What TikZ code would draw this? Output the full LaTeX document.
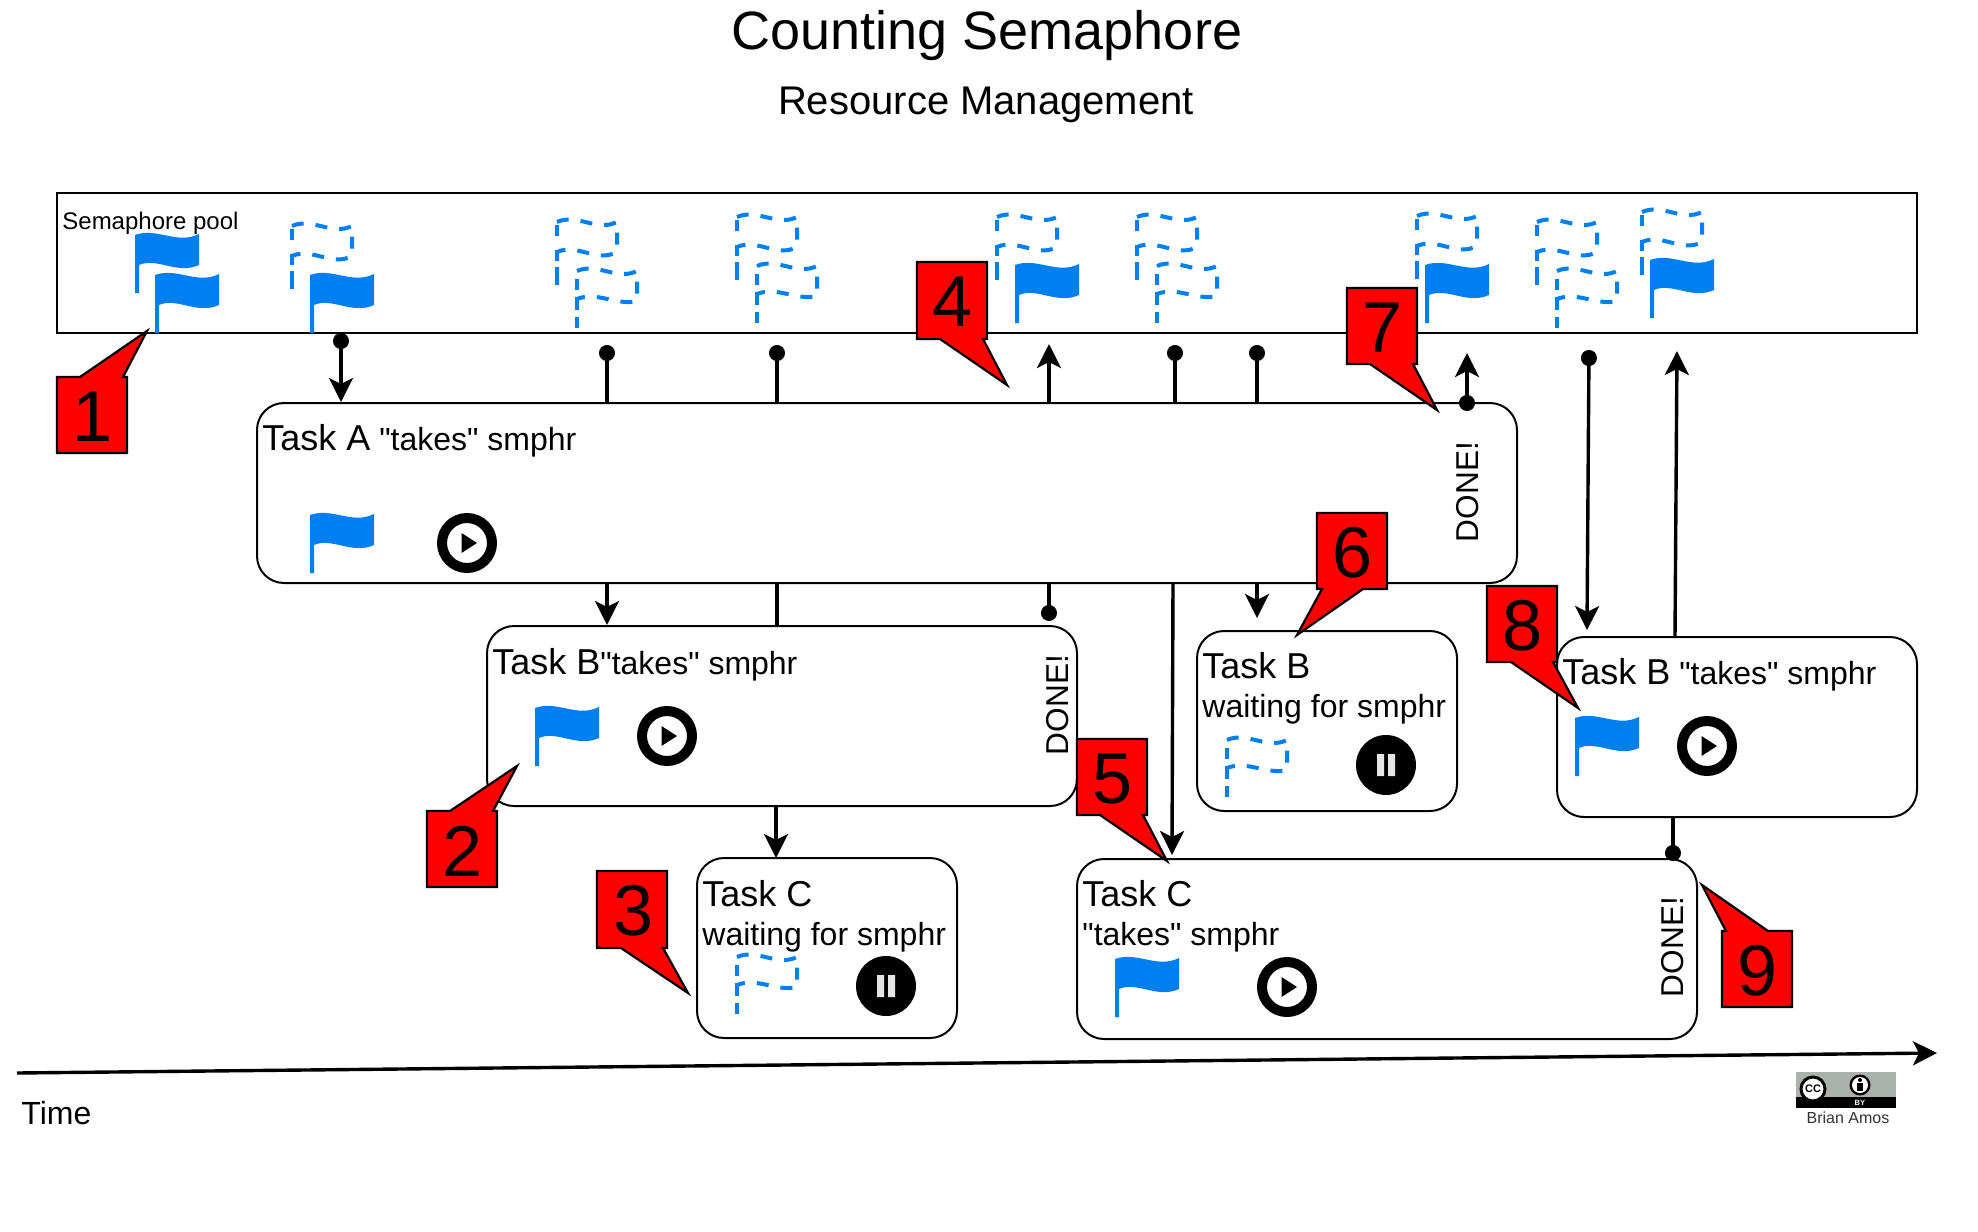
\documentclass[tikz,border=0pt]{standalone}
\usepackage{fontspec}
\setmainfont{Liberation Sans}[Ligatures=TeXOff]
\usepackage{tikz}
\usetikzlibrary{arrows.meta,calc}
\definecolor{flagblue}{HTML}{0080F0}
\definecolor{ccgrey}{HTML}{AAB2AB}
\newcommand{\tasktitle}[1]{{\fontsize{18pt}{20pt}\selectfont #1}}
\tikzset{
  taskbox/.style={draw, line width=1pt, fill=white, rounded corners=13.5pt, minimum height=90pt, inner sep=0pt},
  tasktext/.style={anchor=base west, inner sep=0pt, font=\fontsize{16pt}{20pt}\selectfont},
  donetext/.style={rotate=90, inner sep=0pt, font=\fontsize{15.8pt}{18pt}\selectfont},
  numtext/.style={inner sep=0pt, font=\fontsize{36pt}{40pt}\selectfont},
  numbox/.style={draw, line width=1.1pt, fill=red, line join=miter},
  link/.style={line width=1.7pt},
  linkto/.style={link, -{Stealth[length=12pt,width=12pt,inset=3pt]}},
  dotlink/.style={link, {Circle[length=8pt,width=8pt]}-},
  dotto/.style={link, {Circle[length=8pt,width=8pt]}-{Stealth[length=12pt,width=12pt,inset=3pt]}},
  solidflag/.pic={
    \fill[flagblue] (0,0) -- (0,-58) .. controls (22,-66) and (42,-48) .. (64,-59)
      -- (64,-28) .. controls (42,-18) and (22,-36) .. (4,-28) -- (4,0) -- cycle;
  },
  % top flag of a pair, a little taller
  tallflag/.pic={
    \draw[flagblue, line width=2pt, dash pattern=on 6pt off 6pt] (0,-63) .. controls (20,-72) and (40,-53) .. (60,-63)
      -- (60,-33) .. controls (40,-22) and (20,-42) .. (0,-33);
    \draw[flagblue, line width=2pt, dash pattern=on 9pt off 3pt on 5.5pt off 7pt on 6pt] (0,0) -- (0,-60);
  },
  lowflag/.pic={
    \draw[flagblue, line width=2pt, dash pattern=on 6pt off 6pt] (0,-57) .. controls (20,-66) and (40,-47) .. (60,-57)
      -- (60,-27) .. controls (40,-22) and (20,-37) .. (0,-29);
    \draw[flagblue, line width=2pt, dash pattern=on 5.5pt off 3.5pt on 6.5pt off 3.5pt on 5.5pt] (0,0) -- (0,-57);
  },
  playicon/.pic={
    \draw[line width=5pt] (0,0) circle (25);
    \fill (-5.5,-10) -- (10,0) -- (-5.5,10) -- cycle;
  },
  pauseicon/.pic={
    \fill (0,0) circle (30);
    \fill[white!90!black] (-9,-11) rectangle (-2,11) (2,-11) rectangle (9,11);
  },
}
\begin{document}
\begin{tikzpicture}[x=0.5pt, y=-0.5pt]
  \useasboundingbox (0,0) rectangle (1978,1232);

  \node[inner sep=0pt, anchor=base, font=\fontsize{27pt}{30pt}\selectfont] (title) at (987,49) {Counting Semaphore};
  \node[inner sep=0pt, anchor=base, font=\fontsize{20pt}{24pt}\selectfont] (subtitle) at (986,114) {Resource Management};

  % semaphore pool
  \node[draw, line width=1pt, minimum width=930pt, minimum height=70pt, inner sep=0pt] (pool) at (987,263) {};
  \node[inner sep=0pt, anchor=base west, font=\fontsize{12pt}{14pt}\selectfont] (poollabel) at (62,229) {Semaphore pool};

  \pic at (135,293) {solidflag};
  \pic at (155,333) {solidflag};
  \pic at (292,289) {tallflag};
  \pic at (310,333) {solidflag};
  \pic at (557,285) {tallflag};
  \pic at (577,328) {lowflag};
  \pic at (737,280) {tallflag};
  \pic at (757,323) {lowflag};
  \pic at (997,280) {tallflag};
  \pic at (1015,323) {solidflag};
  \pic at (1137,280) {tallflag};
  \pic at (1157,323) {lowflag};
  \pic at (1417,279) {tallflag};
  \pic at (1425,323) {solidflag};
  \pic at (1537,285) {tallflag};
  \pic at (1557,328) {lowflag};
  \pic at (1642,275) {tallflag};
  \pic at (1650,318) {solidflag};

  % tasks
  \node[taskbox, minimum width=630pt] (taska) at (887,493) {};
  \node[taskbox, minimum width=295pt] (taskb) at (782,716) {};
  \node[taskbox, minimum width=130pt] (taskc) at (827,948) {};
  \node[taskbox, minimum width=130pt] (waitb) at (1327,721) {};
  \node[taskbox, minimum width=310pt] (takec) at (1387,949) {};
  \node[taskbox, minimum width=180pt] (takeb) at (1737,727) {};

  \node[tasktext] (taskatext) at (262,450) {\tasktitle{Task A} "takes" smphr};
  \node[tasktext] (taskbtext) at (492,674) {\tasktitle{Task B}"takes" smphr};
  \node[tasktext] (taskctext) at (702,906) {\tasktitle{Task C}};
  \node[tasktext] (taskcwait) at (702,945) {waiting for smphr};
  \node[tasktext] (waitbtext) at (1202,678) {\tasktitle{Task B}};
  \node[tasktext] (waitbwait) at (1202,717) {waiting for smphr};
  \node[tasktext] (takectext) at (1082,906) {\tasktitle{Task C}};
  \node[tasktext] (takecwait) at (1082,945) {"takes" smphr};
  \node[tasktext] (takebtext) at (1562,684) {\tasktitle{Task B} "takes" smphr};

  \node[donetext] (donea) at (1468,492) {DONE!};
  \node[donetext] (doneb) at (1058,705) {DONE!};
  \node[donetext] (donec) at (1673,947) {DONE!};

  \pic at (310,573) {solidflag};
  \pic at (467,543) {playicon};
  \pic at (535,766) {solidflag};
  \pic at (667,736) {playicon};
  \pic at (737,1014) {lowflag};
  \pic at (886,986) {pauseicon};
  \pic at (1227,797) {lowflag};
  \pic at (1386,765) {pauseicon};
  \pic at (1115,1017) {solidflag};
  \pic at (1287,987) {playicon};
  \pic at (1575,776) {solidflag};
  \pic at (1707,746) {playicon};

  % free ends of the connectors
  \coordinate (p1) at (341,333);
  \coordinate (p2) at (607,345);
  \coordinate (p3) at (777,345);
  \coordinate (p4) at (1049,344);
  \coordinate (p5) at (1175,345);
  \coordinate (p6) at (1257,345);
  \coordinate (p7) at (1467,411);
  \coordinate (p8) at (1467,353);
  \coordinate (p9) at (1589,350);
  \coordinate (p10) at (1587,630);
  \coordinate (p11) at (1675,637);
  \coordinate (p12) at (1677,351);
  \coordinate (p13) at (1049,621);
  \coordinate (p14) at (1173,583);
  \coordinate (p15) at (1172,855);
  \coordinate (p16) at (1257,618);
  \coordinate (p17) at (1673,861);
  \coordinate (p18) at (776,806);
  \coordinate (p19) at (776,858);

  \draw[dotto] (p1) -- (p1 |- taska.north);
  \draw[dotlink] (p2) -- (p2 |- taska.north);
  \draw[dotlink] (p3) -- (p3 |- taska.north);
  \draw[linkto] (p4 |- taska.north) -- (p4);
  \draw[dotlink] (p5) -- (p5 |- taska.north);
  \draw[dotlink] (p6) -- (p6 |- taska.north);
  \draw[dotto] (p7) -- (p8);
  \draw[dotto] (p9) -- (p10);
  \draw[linkto] (p11) -- (p12);

  \draw[linkto] (p2 |- taska.south) -- (p2 |- taskb.north);
  \draw[link] (p3 |- taska.south) -- (p3 |- taskb.north);
  \draw[dotlink] (p13) -- (p13 |- taska.south);
  \draw[linkto] (p14) -- (p15);
  \draw[linkto] (p6 |- taska.south) -- (p16);
  \draw[linkto] (p18) -- (p19);
  \draw[dotlink] (p17) -- (p17 |- takeb.south);

  % time axis
  \coordinate (t0) at (17,1073);
  \coordinate (t1) at (1937,1053);
  \draw[line width=1.7pt, -{Stealth[length=12pt,width=12pt,inset=3pt]}] (t0) -- (t1);
  \node[tasktext] (timelabel) at (21,1124) {Time};

  % numbered notes
  \draw[numbox] (57,377) -- (80,377) -- (147,331) -- (123,377) -- (127,377) -- (127,453) -- (57,453) -- cycle;
  \node[numtext] (n1) at (93,417) {1};
  \draw[numbox] (427,811) -- (450,811) -- (517,766) -- (493,811) -- (497,811) -- (497,887) -- (427,887) -- cycle;
  \node[numtext] (n2) at (463,851) {2};
  \draw[numbox] (597,871) -- (667,871) -- (667,948) -- (663,948) -- (688,993) -- (621,948) -- (597,948) -- cycle;
  \node[numtext] (n3) at (634,911) {3};
  \draw[numbox] (917,262) -- (987,262) -- (987,339) -- (983,339) -- (1007,385) -- (940,339) -- (917,339) -- cycle;
  \node[numtext] (n4) at (953,302) {4};
  \draw[numbox] (1077,739) -- (1147,739) -- (1147,815) -- (1143,815) -- (1167,861) -- (1100,815) -- (1077,815) -- cycle;
  \node[numtext] (n5) at (1113,779) {5};
  \draw[numbox] (1317,513) -- (1387,513) -- (1387,589) -- (1363,589) -- (1297,635) -- (1322,589) -- (1317,589) -- cycle;
  \node[numtext] (n6) at (1353,553) {6};
  \draw[numbox] (1347,288) -- (1417,288) -- (1417,364) -- (1413,364) -- (1437,410) -- (1370,364) -- (1347,364) -- cycle;
  \node[numtext] (n7) at (1383,328) {7};
  \draw[numbox] (1487,586) -- (1557,586) -- (1557,662) -- (1553,662) -- (1578,708) -- (1511,662) -- (1487,662) -- cycle;
  \node[numtext] (n8) at (1523,626) {8};
  \draw[numbox] (1722,931) -- (1726,931) -- (1702,885) -- (1768,931) -- (1792,931) -- (1792,1007) -- (1722,1007) -- cycle;
  \node[numtext] (n9) at (1758,971) {9};

  % licence badge
  \fill[ccgrey] (1796,1072) rectangle (1896,1097);
  \fill (1796,1097) rectangle (1896,1108);
  \fill[white] (1813,1089) circle (12);
  \draw[line width=1.5pt] (1813,1089) circle (12);
  \node[inner sep=0pt, font=\bfseries\fontsize{5.5pt}{6pt}\selectfont] (ccmark) at (1813,1089) {CC};
  \fill (1860,1085) circle (10.5);
  \fill[white] (1860,1085) circle (8);
  \fill (1860,1080) circle (2);
  \fill (1857,1083) rectangle (1863,1091);
  \node[inner sep=0pt, text=white, font=\bfseries\fontsize{3.8pt}{4pt}\selectfont] (bymark) at (1860,1103) {BY};
  \node[inner sep=0pt, text=black!80, font=\fontsize{8pt}{9pt}\selectfont] (brian) at (1848,1118) {Brian Amos};
\end{tikzpicture}
\end{document}
